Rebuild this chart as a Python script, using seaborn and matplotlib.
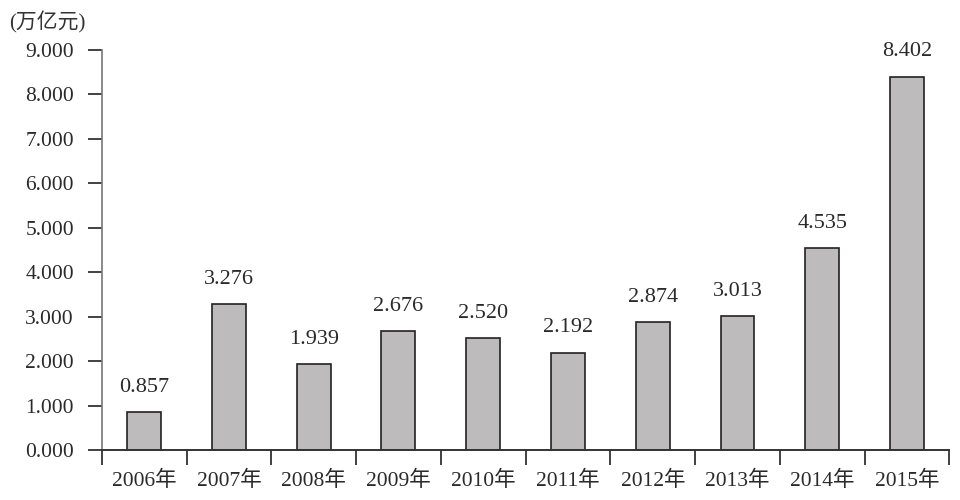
import matplotlib
matplotlib.use("Agg")
import matplotlib.pyplot as plt
import numpy as np
import pandas as pd
import seaborn as sns

years = ["2006年", "2007年", "2008年", "2009年", "2010年",
         "2011年", "2012年", "2013年", "2014年", "2015年"]
values = [0.857, 3.276, 1.939, 2.676, 2.520, 2.192, 2.874, 3.013, 4.535, 8.402]
yticks = [0, 1, 2, 3, 4, 5, 6, 7, 8, 9]
unit = "(万亿元)"

sns.set_style("ticks")
plt.rcParams["font.family"] = ["Liberation Serif", "Noto Sans CJK SC"]

df = pd.DataFrame({"year": years, "value": values})

fig = plt.figure(figsize=(9.6, 5), dpi=100)
ax = fig.add_axes([0.106, 0.1, 0.883, 0.8])

sns.barplot(data=df, x="year", y="value", color="#bdbbbc", saturation=1,
            edgecolor="#222222", linewidth=1.2, width=0.4, ax=ax)

for i, v in enumerate(values):
    ax.annotate(f"{v:.3f}", (i, v), xytext=(0, 11), textcoords="offset points",
                ha="center", va="bottom", fontsize=16, color="#2a2a2a")

ax.set_xlim(-0.5, len(years) - 0.5)
ax.set_ylim(0, 9)
ax.set_yticks(yticks)
ax.set_yticklabels([f"{t:.3f}" for t in yticks], fontsize=15.5, color="#2a2a2a")
ax.set_xticks(range(len(years)))
ax.set_xticklabels(years, fontsize=15.5, color="#2a2a2a")
ax.set_xticks(np.arange(-0.5, len(years)), minor=True)

ax.tick_params(axis="x", which="major", length=0, pad=15)
ax.tick_params(axis="x", which="minor", length=11, width=1.3, color="#333333", direction="out")
ax.tick_params(axis="y", length=10, width=1.3, color="#333333", pad=10)

for side in ["top", "right"]:
    ax.spines[side].set_visible(False)
ax.spines["left"].set_color("#777777")
ax.spines["left"].set_linewidth(1.2)
ax.spines["bottom"].set_color("#333333")
ax.spines["bottom"].set_linewidth(1.4)

ax.set_xlabel("")
ax.set_ylabel("")

fig.text(0.01, 0.955, unit, fontsize=15, color="#333333", ha="left", va="center")

fig.savefig("out.png", dpi=100)
